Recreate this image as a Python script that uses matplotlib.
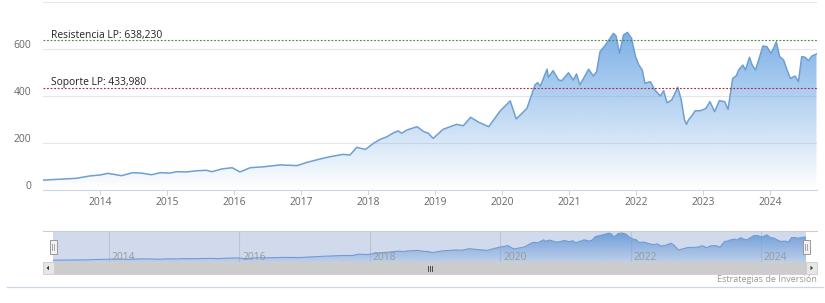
import numpy as np
import matplotlib
matplotlib.use('Agg')
import matplotlib.pyplot as plt
from matplotlib.patches import Rectangle, Polygon
import matplotlib.transforms as mtransforms

plt.rcParams['font.family'] = ['Open Sans', 'DejaVu Sans']

# ---------------- data ----------------
dates = [2013.145, 2013.40, 2013.65, 2013.85, 2014.00, 2014.12, 2014.32, 2014.49, 2014.62, 2014.77,
         2014.90, 2015.04, 2015.14, 2015.29, 2015.44, 2015.59, 2015.67, 2015.82, 2015.97, 2016.09,
         2016.24, 2016.44, 2016.69, 2016.94, 2017.09, 2017.28, 2017.43, 2017.63, 2017.73, 2017.83,
         2017.96, 2018.08, 2018.18, 2018.28, 2018.38, 2018.45, 2018.50, 2018.58, 2018.73, 2018.83,
         2018.90, 2018.97, 2019.12, 2019.32, 2019.42, 2019.53, 2019.65, 2019.80, 2019.97, 2020.12,
         2020.21, 2020.37, 2020.49, 2020.53, 2020.57, 2020.67, 2020.69, 2020.76, 2020.84, 2020.89,
         2020.99, 2021.06, 2021.11, 2021.16, 2021.29, 2021.36, 2021.41, 2021.46, 2021.54, 2021.61,
         2021.66, 2021.70, 2021.75, 2021.81, 2021.87, 2021.93, 2021.99, 2022.04, 2022.09, 2022.13,
         2022.21, 2022.28, 2022.36, 2022.41, 2022.46, 2022.53, 2022.62, 2022.67, 2022.72, 2022.75,
         2022.78, 2022.83, 2022.88, 2022.96, 2023.04, 2023.10, 2023.17, 2023.24, 2023.32, 2023.37,
         2023.44, 2023.49, 2023.53, 2023.59, 2023.63, 2023.69, 2023.73, 2023.78, 2023.83, 2023.89,
         2023.95, 2024.01, 2024.05, 2024.09, 2024.14, 2024.20, 2024.25, 2024.30, 2024.37, 2024.42,
         2024.47, 2024.52, 2024.57, 2024.62, 2024.69]
values = [42, 46, 50, 60, 64, 71, 61, 74, 72, 65,
          74, 72, 78, 77, 82, 84, 78, 90, 95, 77,
          95, 99, 107, 104, 118, 132, 142, 152, 149, 182,
          173, 199, 216, 227, 244, 252, 242, 256, 270, 249,
          242, 220, 259, 280, 274, 310, 289, 270, 337, 380,
          303, 348, 448, 458, 443, 515, 481, 509, 470, 466,
          500, 469, 495, 448, 515, 486, 505, 590, 618, 647,
          668, 657, 583, 661, 672, 647, 569, 533, 512, 455,
          462, 426, 401, 423, 372, 384, 438, 387, 299, 280,
          299, 316, 338, 338, 348, 377, 334, 381, 377, 344,
          476, 486, 512, 533, 512, 566, 533, 512, 557, 614,
          611, 583, 604, 632, 569, 554, 512, 476, 486, 462,
          569, 566, 551, 571, 580]

resistance = 638.23
support = 433.98
resistance_label = "Resistencia LP: 638,230"
support_label = "Soporte LP: 433,980"
main_years = list(range(2014, 2025))
nav_years = [2014, 2016, 2018, 2020, 2022, 2024]
y_ticks = [0, 200, 400, 600, 800]
y_labels = ['0', '200', '400', '600', '']
credits = "Estrategias de Inversión"

x = np.array(dates)
y = np.array(values, dtype=float)

# ---------------- figure ----------------
W, H = 825, 303
fig = plt.figure(figsize=(W / 100, H / 100), dpi=100)


def px_axes(x0, y0, x1, y1):
    return fig.add_axes([x0 / W, 1 - y1 / H, (x1 - x0) / W, (y1 - y0) / H])


def gradient_area(ax, xs, ys, top, rgb, a_top, a_bot, line_color, lw):
    poly = ax.fill_between(xs, ys, 0, facecolor='none', lw=0)
    grad = np.zeros((256, 1, 4))
    grad[..., :3] = rgb
    grad[..., 3] = np.linspace(a_top, a_bot, 256)[:, None]
    im = ax.imshow(grad, extent=[xs[0], xs[-1], 0, top], aspect='auto',
                   origin='upper', zorder=1, interpolation='bilinear')
    im.set_clip_path(poly.get_paths()[0], transform=ax.transData)
    ax.plot(xs, ys, color=line_color, lw=lw, zorder=3, solid_joinstyle='round')


base_rgb = np.array([118, 172, 230]) / 255.0

# ---- main chart ----
ax = px_axes(42.7, 2.4, 816.5, 190)
gradient_area(ax, x, y, y.max(), base_rgb, 0.95, 0.0, '#6f9fd2', 1.1)
ax.set_xlim(x[0], x[-1])
ax.set_ylim(0, 800)
for s in ['top', 'right', 'left']:
    ax.spines[s].set_visible(False)
ax.spines['bottom'].set_color('#ccd6eb')
ax.spines['bottom'].set_linewidth(0.8)
ax.set_yticks(y_ticks)
ax.set_yticklabels(y_labels)
ax.grid(axis='y', color='#e6e6e6', lw=0.8, zorder=0)
ax.set_axisbelow(True)
ax.tick_params(axis='y', length=0, pad=8.4, labelsize=7.4, labelcolor='#666666')
ax.set_xticks(main_years)
ax.set_xticklabels([str(v) for v in main_years])
ax.tick_params(axis='x', length=3.5, width=0.7, color='#ccd6eb', pad=1.7,
               labelsize=7.4, labelcolor='#666666')
off = mtransforms.ScaledTranslation(0, 5 / 100, fig.dpi_scale_trans)
for lab in ax.get_yticklabels():
    lab.set_transform(lab.get_transform() + off)

ax.axhline(resistance, color='#3f8f3f', lw=0.8, ls=(0, (1.6, 1.6)), zorder=4)
ax.axhline(support, color='#a8283c', lw=0.8, ls=(0, (1.6, 1.6)), zorder=4)
for lbl, val in [(resistance_label, resistance), (support_label, support)]:
    ax.annotate(lbl, xy=(0.0107, val), xycoords=('axes fraction', 'data'),
                xytext=(0, 2.0), textcoords='offset points', fontsize=7.4,
                color='#222222', va='baseline', ha='left', zorder=6)

# ---- navigator ----
nav = px_axes(53, 231, 806, 262)
nav.set_xticks(nav_years)
nav.grid(axis='x', color='#e0e0e0', lw=0.8, zorder=0)
nav.set_axisbelow(True)
gradient_area(nav, x, y, y.max(), base_rgb, 1.0, 0.2, '#7aa6d8', 0.8)
nav.set_xlim(x[0], x[-1])
nav.set_ylim(0, 720)
nav.set_yticks([])
nav.tick_params(axis='x', length=0, labelbottom=False)
for s in nav.spines.values():
    s.set_visible(False)
nav.axvspan(x[0], x[-1], color=(102 / 255, 133 / 255, 194 / 255, 0.3), lw=0, zorder=5)
tr = mtransforms.blended_transform_factory(nav.transData, nav.transAxes) + \
    mtransforms.ScaledTranslation(3 / 100, 2.5 / 100, fig.dpi_scale_trans)
for yr in nav_years:
    nav.text(yr, 0, str(yr), transform=tr, fontsize=7.4, color='#999999',
             ha='left', va='baseline', zorder=6)

# ---- overlay (scrollbar, handles, credits) ----
ov = fig.add_axes([0, 0, 1, 1])
ov.set_xlim(0, W)
ov.set_ylim(H, 0)
ov.axis('off')
ov.patch.set_alpha(0)

ov.plot([42.5, 817], [231, 231], color='#cccccc', lw=0.8)
# scrollbar track
ov.add_patch(Rectangle((42.5, 262), 774.5, 12, facecolor='#f2f2f2', edgecolor='none'))
# thumb
ov.add_patch(Rectangle((53, 262), 753, 12, facecolor='#cccccc', edgecolor='#cccccc', lw=0.6))
# buttons
for bx in (42.5, 806):
    ov.add_patch(Rectangle((bx, 262), 11, 12, facecolor='#e6e6e6', edgecolor='#cccccc', lw=0.6))
ov.add_patch(Polygon([[46.5, 268], [49, 265.8], [49, 270.2]], closed=True, facecolor='#333333', edgecolor='none'))
ov.add_patch(Polygon([[813, 268], [810.5, 265.8], [810.5, 270.2]], closed=True, facecolor='#333333', edgecolor='none'))
# grip
for gx in (427.5, 429.5, 431.5):
    ov.plot([gx, gx], [265.5, 270.5], color='#333333', lw=0.6)
# handles
for hx in (53, 806):
    ov.add_patch(Rectangle((hx - 3.5, 239.5), 7, 14, facecolor='#f2f2f2', edgecolor='#999999', lw=0.7, zorder=7))
    for dx in (-1, 1):
        ov.plot([hx + dx, hx + dx], [243.5, 249.5], color='#999999', lw=0.6, zorder=8)

ov.plot([7, 823], [286.5, 286.5], color='#ccd6eb', lw=0.9)
ov.text(817, 279.5, credits, ha='right', va='center', fontsize=6.5, color='#999999')

fig.savefig('out.png', dpi=100)
